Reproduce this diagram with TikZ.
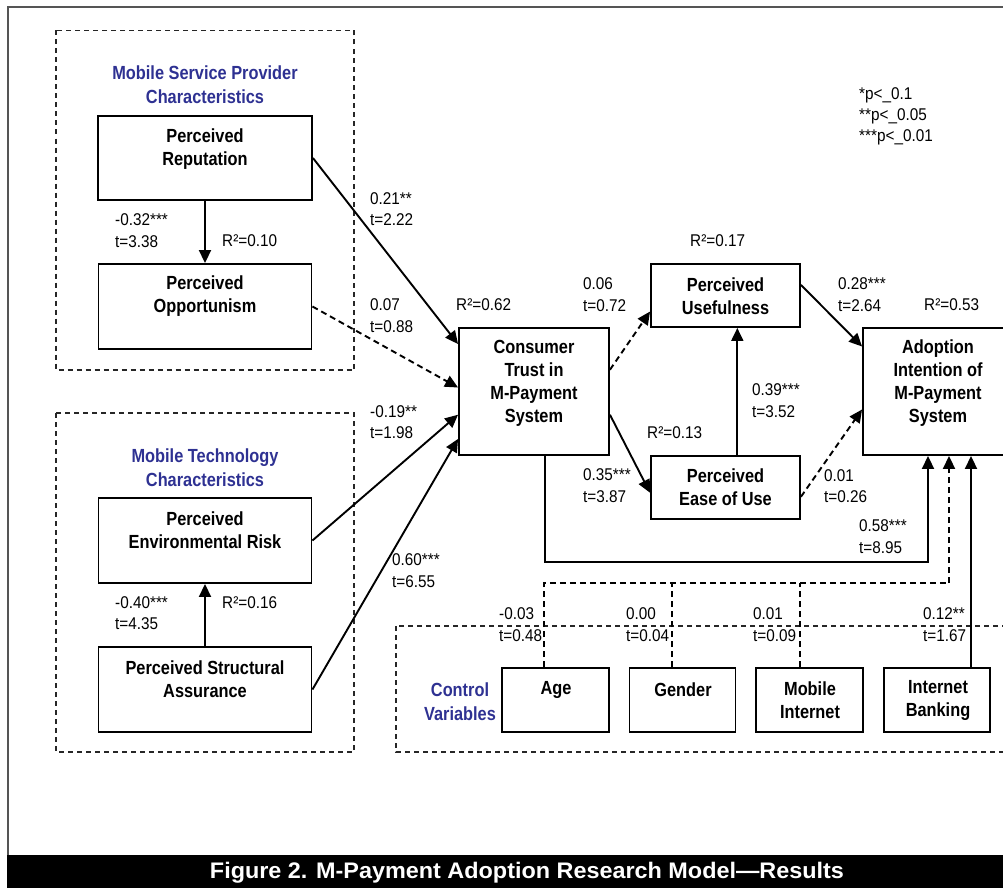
\documentclass[tikz,border=0pt]{standalone}
\usepackage{fontspec}
\setmainfont{Liberation Sans}
\newfontfamily\narrowfont[FakeStretch=0.86]{Liberation Sans}
\newfontfamily\labelfont[FakeStretch=0.9]{Liberation Sans}
\newfontfamily\widefont[FakeStretch=1.04]{Liberation Sans}
\usetikzlibrary{arrows.meta}
\definecolor{groupblue}{RGB}{46,49,146}
\definecolor{framegray}{RGB}{85,85,85}

\begin{document}
\begin{tikzpicture}[x=1pt,y=-1pt,
  box/.style={draw, line width=1.9pt, rectangle, inner sep=0pt},
  boxtext/.style={font=\narrowfont\bfseries\fontsize{19}{23}\selectfont, align=center, inner sep=0pt},
  grouptitle/.style={font=\narrowfont\bfseries\fontsize{19}{24}\selectfont, align=center, inner sep=0pt, text=groupblue},
  coef/.style={font=\labelfont\fontsize{17}{21.5}\selectfont, align=left, anchor=west, inner sep=0pt},
  link/.style={line width=1.9pt, -{Triangle[length=13pt,width=12pt]}},
  weak/.style={link, dash pattern=on 6pt off 4pt},
  bus/.style={line width=1.7pt, dash pattern=on 6pt off 4pt},
  grouping/.style={line width=1.4pt, black!85, dash pattern=on 5pt off 4pt}
]
\useasboundingbox (0,0) rectangle (1003,888);

% page frame and caption bar
\draw[framegray, line width=2pt] (8,856) -- (8,7.5) -- (1010,7.5);
\fill[black] (7,855) rectangle (1003,888);
\node[font=\widefont\bfseries\fontsize{22.5}{25}\selectfont, text=white, inner sep=0pt] (caption) at (527,873)
  {Figure 2. M-Payment Adoption Research Model—Results};

% dashed groupings
\draw[grouping] (56,30.5) rectangle (354,370);
\draw[grouping] (56,413) rectangle (354,752);
\draw[grouping] (396,626) rectangle (1012,752);

\node[grouptitle] (msptitle) at (205,85) {Mobile Service Provider\\Characteristics};
\node[grouptitle] (mttitle) at (205,468) {Mobile Technology\\Characteristics};
\node[grouptitle] (cvtitle) at (460,701.5) {Control\\Variables};

% construct boxes
\node[box, minimum width=214pt, minimum height=84pt] (rep) at (205,158) {};
\node[box, minimum width=213pt, minimum height=85pt] (opp) at (205,306.5) {};
\node[box, minimum width=213pt, minimum height=85pt] (env) at (205,540.5) {};
\node[box, minimum width=213pt, minimum height=85pt] (struct) at (205,689.5) {};
\node[box, minimum width=150pt, minimum height=127pt] (trust) at (534,391.5) {};
\node[box, minimum width=149pt, minimum height=63pt] (pu) at (725.5,295.5) {};
\node[box, minimum width=149pt, minimum height=63pt] (peou) at (725.5,487.5) {};
\node[box, minimum width=154pt, minimum height=127pt] (adopt) at (940,391.5) {};
\node[box, minimum width=107pt, minimum height=64pt] (age) at (555.5,700) {};
\node[box, minimum width=106pt, minimum height=64pt] (gender) at (682.5,700) {};
\node[box, minimum width=107pt, minimum height=64pt] (mobint) at (809.5,700) {};
\node[box, minimum width=106pt, minimum height=64pt] (intbank) at (937,700) {};

% box captions
\node[boxtext] (repT) at (205,149.5) {Perceived\\Reputation};
\node[boxtext] (oppT) at (205,296.5) {Perceived\\Opportunism};
\node[boxtext] (envT) at (205,530.5) {Perceived\\Environmental Risk};
\node[boxtext] (structT) at (205,679) {Perceived Structural\\Assurance};
\node[boxtext] (trustT) at (534,383) {Consumer\\Trust in\\M-Payment\\System};
\node[boxtext] (puT) at (725.5,296.5) {Perceived\\Usefulness};
\node[boxtext] (peouT) at (725.5,487.5) {Perceived\\Ease of Use};
\node[boxtext] (adoptT) at (938,383) {Adoption\\Intention of\\M-Payment\\System};
\node[boxtext] (ageT) at (556,690) {Age};
\node[boxtext] (genderT) at (683,690) {Gender};
\node[boxtext] (mobintT) at (810,700.5) {Mobile\\Internet};
\node[boxtext] (intbankT) at (938,700.5) {Internet\\Banking};

% helper points for the elbow connectors
\coordinate (loopA) at (545,562);
\coordinate (loopB) at (928,562);
\coordinate (busA) at (544,583);
\coordinate (busG) at (672,583);
\coordinate (busM) at (800,583);
\coordinate (busE) at (949,583);
\coordinate (ibx) at (971,600);

% paths
\draw[link] (rep.south) -- (opp.north);
\draw[link] (struct.north) -- (env.south);
\draw[link] (rep.east) -- (trust.148);
\draw[weak] (opp.east) -- (trust.177);
\draw[link] (env.east) -- (trust.197);
\draw[link] (struct.east) -- (trust.212);
\draw[weak] (trust.16) -- (pu.192);
\draw[link] (trust.-17) -- (peou.184);
\draw[link] (peou.70) -- (peou.70 |- pu.south);
\draw[link] (pu.8) -- (adopt.150);
\draw[weak] (peou.-7) -- (adopt.193);
\draw[link] (trust.south -| loopA) -- (loopA) -- (loopB) -- (adopt.south -| loopB);
\draw[bus] (age.north -| busA) -- (busA) -- (busE);
\draw[weak] (busE) -- (adopt.south -| busE);
\draw[bus] (gender.north -| busG) -- (busG);
\draw[bus] (mobint.north -| busM) -- (busM);
\draw[link] (intbank.north -| ibx) -- (adopt.south -| ibx);

% path coefficients
\node[coef] (c1) at (370,209) {0.21**\\t=2.22};
\node[coef] (c2) at (370,315.5) {0.07\\t=0.88};
\node[coef] (c3) at (115,230.5) {-0.32***\\t=3.38};
\node[coef] (r1) at (222,241) {R²=0.10};
\node[coef] (c4) at (370,422) {-0.19**\\t=1.98};
\node[coef] (c5) at (115,613) {-0.40***\\t=4.35};
\node[coef] (r2) at (222,603) {R²=0.16};
\node[coef] (c6) at (392,570.5) {0.60***\\t=6.55};
\node[coef] (r3) at (456,305) {R²=0.62};
\node[coef] (c7) at (583,294.5) {0.06\\t=0.72};
\node[coef] (r4) at (690,241) {R²=0.17};
\node[coef] (c8) at (838,294.5) {0.28***\\t=2.64};
\node[coef] (r5) at (924,305) {R²=0.53};
\node[coef] (c9) at (752,400.5) {0.39***\\t=3.52};
\node[coef] (r6) at (647,433) {R²=0.13};
\node[coef] (c10) at (583,485.5) {0.35***\\t=3.87};
\node[coef] (c11) at (824,486) {0.01\\t=0.26};
\node[coef] (c12) at (859,536.5) {0.58***\\t=8.95};
\node[coef] (c13) at (499,624.5) {-0.03\\t=0.48};
\node[coef] (c14) at (626,624.5) {0.00\\t=0.04};
\node[coef] (c15) at (753,624.5) {0.01\\t=0.09};
\node[coef] (c16) at (923,624.5) {0.12**\\t=1.67};

% significance legend
\node[coef, font=\labelfont\fontsize{17}{21}\selectfont] (legend) at (859,116) {*p<\_0.1\\**p<\_0.05\\***p<\_0.01};
\end{tikzpicture}
\end{document}
